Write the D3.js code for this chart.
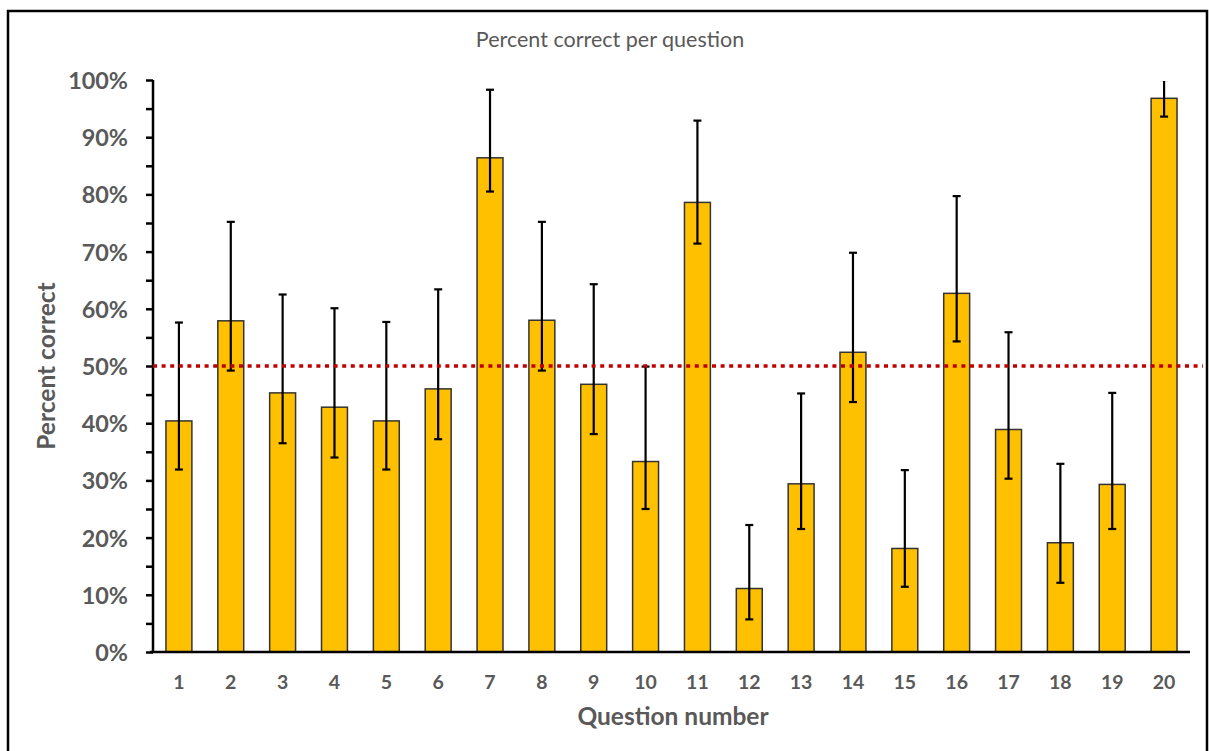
<!DOCTYPE html>
<html>
<head>
<meta charset="utf-8">
<script src="https://cdn.jsdelivr.net/npm/d3@7"></script>
<style>
  html, body { margin: 0; padding: 0; background: #fff; }
  svg { display: block; }
</style>
</head>
<body>
<svg id="chart" width="1209" height="751"></svg>
<script>
const questions = ["1","2","3","4","5","6","7","8","9","10","11","12","13","14","15","16","17","18","19","20"];
const percentCorrect = [40.4, 57.9, 45.3, 42.8, 40.4, 46.0, 86.4, 58.0, 46.8, 33.3, 78.6, 11.1, 29.4, 52.4, 18.1, 62.7, 38.9, 19.1, 29.3, 96.8];
const errorUpper = [57.6, 75.2, 62.5, 60.1, 57.7, 63.4, 98.3, 75.2, 64.3, 49.9, 92.9, 22.2, 45.2, 69.8, 31.8, 79.7, 55.9, 32.9, 45.3, 100.0];
const errorLower = [31.9, 49.2, 36.5, 34.0, 31.9, 37.2, 80.5, 49.2, 38.1, 25.0, 71.4, 5.7, 21.5, 43.7, 11.4, 54.3, 30.3, 12.1, 21.5, 93.6];
const yTicks = [0, 10, 20, 30, 40, 50, 60, 70, 80, 90, 100];
const referenceLine = 50;
const chartTitle = "Percent correct per question";
const xTitle = "Question number";
const yTitle = "Percent correct";

const svg = d3.select("#chart");
const m = { left: 153, right: 1190, top: 80, bottom: 652 };
const font = "Lato, 'Open Sans', sans-serif";
const grey = "#595959";

// frame
svg.append("rect").attr("x", 8).attr("y", 11).attr("width", 1199).attr("height", 745)
  .attr("fill", "#fff").attr("stroke", "#000").attr("stroke-width", 2.5);

const x = d3.scaleBand().domain(questions).range([m.left, m.right]).paddingInner(0.5).paddingOuter(0.25);
const y = d3.scaleLinear().domain([0, 100]).range([m.bottom, m.top]);

svg.append("defs").append("clipPath").attr("id", "plotclip")
  .append("rect").attr("x", m.left).attr("y", m.top + 1).attr("width", m.right - m.left).attr("height", m.bottom - m.top);

// title
svg.append("text").attr("x", 610).attr("y", 47).attr("text-anchor", "middle")
  .attr("font-family", font).attr("font-size", 21.5).attr("fill", grey).text(chartTitle);

// bars
svg.append("g").selectAll("rect").data(percentCorrect).join("rect")
  .attr("x", (d, i) => x(questions[i]))
  .attr("y", d => y(d))
  .attr("width", x.bandwidth())
  .attr("height", d => y(0) - y(d))
  .attr("fill", "#FFC000").attr("stroke", "#333").attr("stroke-width", 1.5);

// error bars
const eg = svg.append("g").attr("stroke", "#000").attr("stroke-width", 2.2).attr("clip-path", "url(#plotclip)");
questions.forEach((q, i) => {
  const cx = x(q) + x.bandwidth() / 2;
  eg.append("line").attr("x1", cx).attr("x2", cx).attr("y1", y(errorUpper[i])).attr("y2", y(errorLower[i]));
  eg.append("line").attr("x1", cx - 4).attr("x2", cx + 4).attr("y1", y(errorUpper[i])).attr("y2", y(errorUpper[i]));
  eg.append("line").attr("x1", cx - 4).attr("x2", cx + 4).attr("y1", y(errorLower[i])).attr("y2", y(errorLower[i]));
});

// y axis
const yAxis = d3.axisLeft(y).tickValues(d3.range(0, 101, 5)).tickSize(7)
  .tickFormat(d => yTicks.includes(d) ? d + "%" : "");
const yg = svg.append("g").attr("transform", `translate(${m.left},0)`).call(yAxis);
yg.select(".domain").attr("stroke", "#000").attr("stroke-width", 2.5).attr("d", `M0,${m.top}V${m.bottom}`);
yg.selectAll(".tick line").attr("stroke", "#000").attr("stroke-width", 2.5);
yg.selectAll(".tick text").attr("font-family", font).attr("font-size", 23.4).attr("font-weight", "bold")
  .attr("fill", grey).attr("x", -25).attr("dy", "0.36em");

// x axis
const xAxis = d3.axisBottom(x).tickSize(0);
const xg = svg.append("g").attr("transform", `translate(0,${m.bottom})`).call(xAxis);
xg.select(".domain").attr("stroke", "#000").attr("stroke-width", 2.5).attr("d", `M${m.left - 3},0H${m.right}`);
xg.selectAll(".tick text").attr("font-family", font).attr("font-size", 19.5).attr("font-weight", "bold")
  .attr("fill", grey).attr("y", 23).attr("dy", "0.71em");

// reference line
svg.append("line").attr("x1", m.left).attr("x2", 1203).attr("y1", y(referenceLine)).attr("y2", y(referenceLine))
  .attr("stroke", "#C00000").attr("stroke-width", 3.5).attr("stroke-dasharray", "4,4.6");

// axis titles
svg.append("text").attr("x", 673).attr("y", 725).attr("text-anchor", "middle")
  .attr("font-family", font).attr("font-size", 24.5).attr("font-weight", "bold").attr("fill", grey).text(xTitle);
svg.append("text").attr("transform", `translate(55,366) rotate(-90)`).attr("text-anchor", "middle")
  .attr("font-family", font).attr("font-size", 24.5).attr("font-weight", "bold").attr("fill", grey).text(yTitle);
</script>
</body>
</html>
